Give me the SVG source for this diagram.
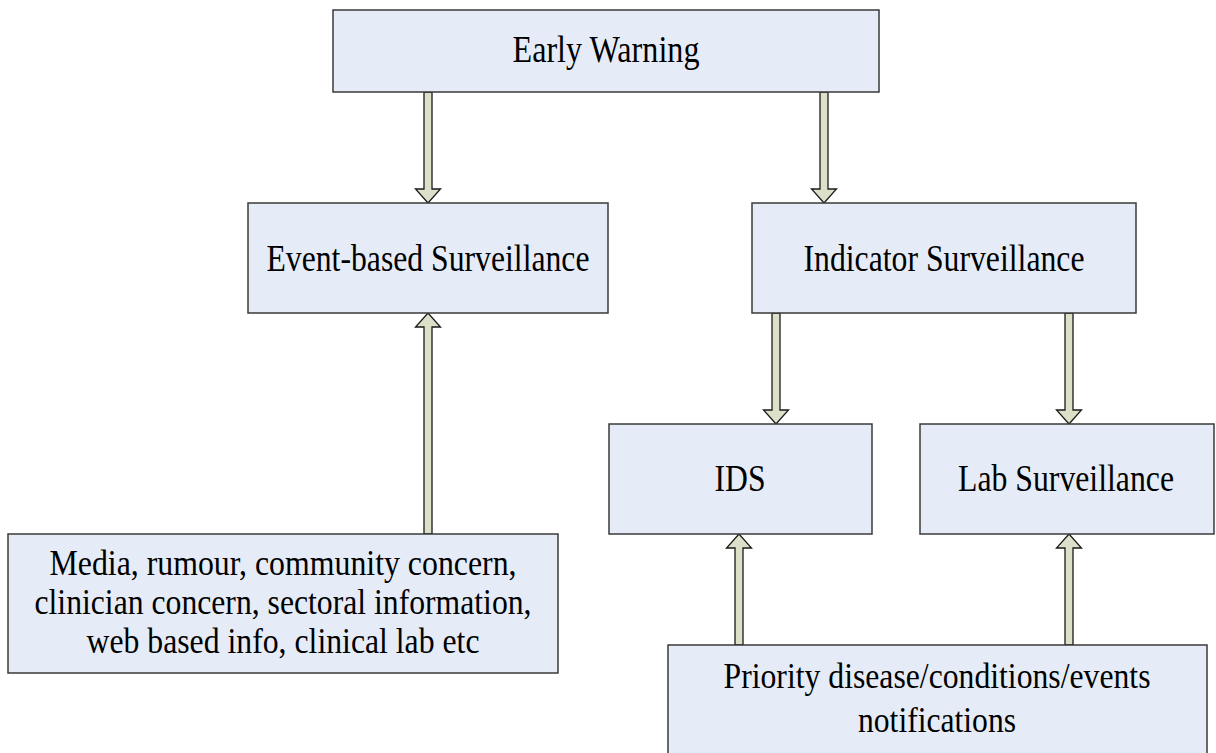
<svg xmlns="http://www.w3.org/2000/svg" width="1216" height="753" viewBox="0 0 1216 753">
  <style>
    .box { fill: #e6ecf7; stroke: #3a3a3a; stroke-width: 1.5; }
    .lbl { font-family: "Liberation Serif", "Times New Roman", serif; font-size: 38px; fill: #000; text-anchor: middle; }
    .sm { font-size: 35px; }
    .arr { fill: #dde0c8; stroke: #1a1a1a; stroke-width: 1.3; stroke-linejoin: miter; }
  </style>
  <rect width="1216" height="753" fill="#ffffff"/>

  <g id="connectors">
    <!-- Early Warning -> Event-based -->
    <path class="arr" d="M424,92 L432,92 L432,189 L440.5,189 L428,203 L415.5,189 L424,189 Z"/>
    <!-- Early Warning -> Indicator -->
    <path class="arr" d="M820,92 L828,92 L828,189 L836.5,189 L824,203 L811.5,189 L820,189 Z"/>
    <!-- Indicator -> IDS -->
    <path class="arr" d="M772,313 L780,313 L780,410 L788.5,410 L776,424 L763.5,410 L772,410 Z"/>
    <!-- Indicator -> Lab -->
    <path class="arr" d="M1065,313 L1073,313 L1073,410 L1081.5,410 L1069,424 L1056.5,410 L1065,410 Z"/>
    <!-- Media -> Event-based (up) -->
    <path class="arr" d="M424,534 L432,534 L432,327 L440.5,327 L428,313 L415.5,327 L424,327 Z"/>
    <!-- Priority -> IDS (up) -->
    <path class="arr" d="M735,645 L743,645 L743,548 L751.5,548 L739,534 L726.5,548 L735,548 Z"/>
    <!-- Priority -> Lab (up) -->
    <path class="arr" d="M1065,645 L1073,645 L1073,548 L1081.5,548 L1069,534 L1056.5,548 L1065,548 Z"/>
  </g>

  <g id="early-warning">
    <rect class="box" x="333" y="10" width="546" height="82"/>
    <text class="lbl" x="606" y="62" textLength="187" lengthAdjust="spacingAndGlyphs">Early Warning</text>
  </g>

  <g id="event-based">
    <rect class="box" x="248" y="203" width="360" height="110"/>
    <text class="lbl" x="428" y="271" textLength="323" lengthAdjust="spacingAndGlyphs">Event-based Surveillance</text>
  </g>

  <g id="indicator">
    <rect class="box" x="752" y="203" width="384" height="110"/>
    <text class="lbl" x="944" y="271" textLength="281" lengthAdjust="spacingAndGlyphs">Indicator Surveillance</text>
  </g>

  <g id="ids">
    <rect class="box" x="609" y="424" width="263" height="110"/>
    <text class="lbl" x="740" y="491" textLength="51" lengthAdjust="spacingAndGlyphs">IDS</text>
  </g>

  <g id="lab">
    <rect class="box" x="920" y="424" width="294" height="110"/>
    <text class="lbl" x="1066" y="491" textLength="216" lengthAdjust="spacingAndGlyphs">Lab Surveillance</text>
  </g>

  <g id="media">
    <rect class="box" x="8" y="534" width="550" height="139"/>
    <text class="lbl sm" x="283" y="575" textLength="467" lengthAdjust="spacingAndGlyphs">Media, rumour, community concern,</text>
    <text class="lbl sm" x="283" y="614" textLength="497" lengthAdjust="spacingAndGlyphs">clinician concern, sectoral information,</text>
    <text class="lbl sm" x="283" y="653" textLength="393" lengthAdjust="spacingAndGlyphs">web based info, clinical lab etc</text>
  </g>

  <g id="priority">
    <rect class="box" x="668" y="645" width="539" height="120"/>
    <text class="lbl sm" x="937" y="688" textLength="427" lengthAdjust="spacingAndGlyphs">Priority disease/conditions/events</text>
    <text class="lbl sm" x="937" y="732" textLength="158" lengthAdjust="spacingAndGlyphs">notifications</text>
  </g>
</svg>
